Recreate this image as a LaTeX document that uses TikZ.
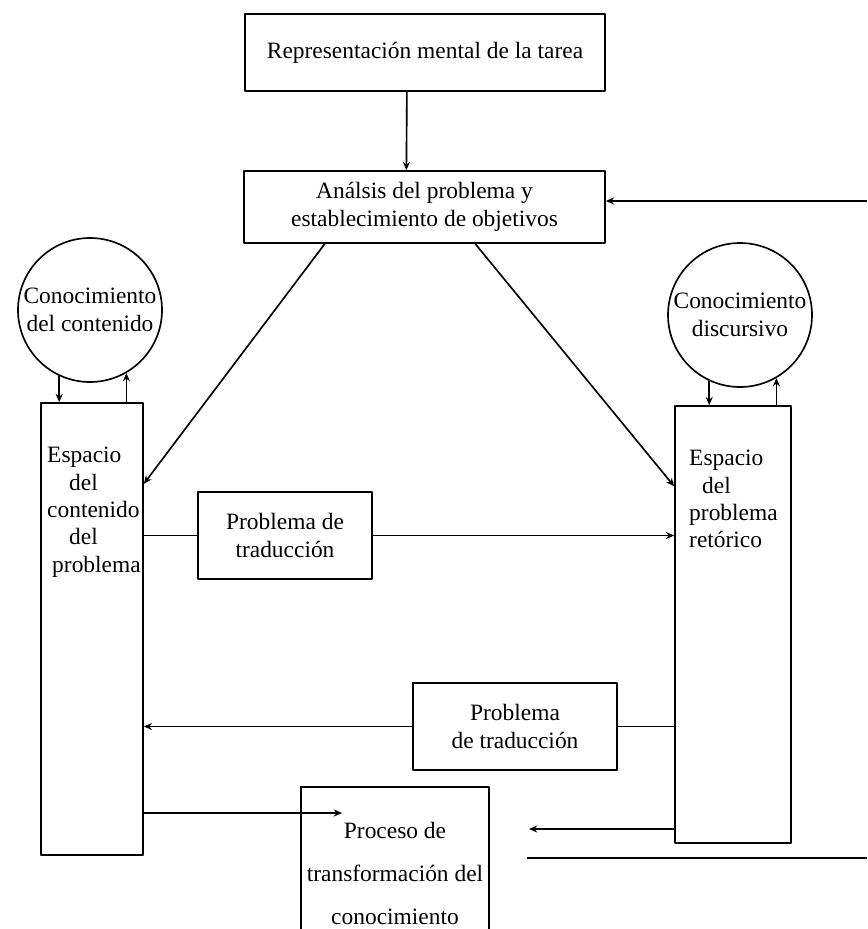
\documentclass[tikz,border=0pt]{standalone}
\usepackage{fontspec}
\setmainfont{Liberation Serif}
\usetikzlibrary{calc,arrows.meta}
\tikzset{
	caja/.style={draw,line width=1.4pt,inner sep=0pt,align=center},
	saber/.style={draw,circle,line width=1.4pt,inner sep=0pt,minimum size=4.32cm,align=center},
	espacio/.style={draw,line width=1.4pt,inner sep=0pt},
	rotulo/.style={anchor=north west,inner sep=0pt,align=left},
	flecha/.style={->,line width=1.4pt}
}
\begin{document}
\begin{tikzpicture}[x=0.03cm,y=-0.03cm,font=\fontsize{20}{23.4}\selectfont,line join=round,>={Stealth[length=7pt,width=6pt]}]
	\useasboundingbox (0,0) rectangle (867,929);
	\clip (0,0) rectangle (867,929);
	% cajas de arriba
	\node[caja,minimum width=10.8cm,minimum height=2.31cm] (T) at (425,52.5) {Representación mental de la tarea};
	\node[caja,minimum width=10.83cm,minimum height=2.16cm] (A) at (424.5,207) {Análsis del problema y\\establecimiento de objetivos};
	% conocimientos
	\node[saber] (CL) at (90,310) {Conocimiento\\del contenido};
	\node[saber] (CR) at (740,315) {Conocimiento\\discursivo};
	% espacios
	\node[espacio,minimum width=3.06cm,minimum height=13.56cm] (L) at (92,629) {};
	\node[espacio,minimum width=3.48cm,minimum height=13.11cm] (R) at (733,624.5) {};
	\node[rotulo] (Lt) at (47,447) {Espacio\\\hspace*{0.66cm}del\\contenido\\\hspace*{0.66cm}del\\\hspace*{0.15cm}problema};
	\node[rotulo] (Rt) at (689,450) {Espacio\\\hspace*{0.39cm}del\\problema\\retórico};
	% traduccion
	\node[caja,minimum width=5.22cm,minimum height=2.61cm] (P1) at (285,535.5) {Problema de\\traducción};
	\node[caja,minimum width=6.12cm,minimum height=2.61cm] (P2) at (515,726.5) {Problema\\de traducción};
	\node[caja,minimum width=5.64cm,minimum height=5.19cm,font=\fontsize{20}{36.6}\selectfont] (K) at (395,873.5) {Proceso de\\transformación del\\conocimiento};
	% flechas
	\draw[flecha] ($(T.south west)!0.45!(T.south east)$) -- ($(A.north west)!0.45!(A.north east)$);
	\coordinate (e1) at (867,201);
	\draw[flecha] (e1) -- (A.east |- e1);
	\draw[flecha] ($(A.south west)!0.225!(A.south east)$) -- ($(L.north east)!0.18!(L.south east)$);
	\draw[flecha] ($(A.south west)!0.64!(A.south east)$) -- ($(R.north west)!0.185!(R.south west)$);
	\draw[flecha] (CL.245) -- (CL.245 |- L.north);
	\draw[flecha] (CL.300 |- L.north) -- (CL.300);
	\draw[flecha] (CR.245) -- (CR.245 |- R.north);
	\draw[flecha] (CR.300 |- R.north) -- (CR.300);
	\draw[line width=1.4pt] (L.east |- P1.west) -- (P1.west);
	\draw[flecha] (P1.east) -- (R.west |- P1.east);
	\draw[line width=1.4pt] (R.west |- P2.east) -- (P2.east);
	\draw[flecha] (P2.west) -- (L.east |- P2.west);
	\coordinate (k1) at (342,813);
	\draw[flecha] (L.east |- k1) -- (k1);
	\coordinate (k2) at (529,829);
	\draw[flecha] (R.west |- k2) -- (k2);
	\coordinate (e2) at (527,858);
	\coordinate (e3) at (867,858);
	\draw[line width=1.4pt] (e2) -- (e3);
\end{tikzpicture}
\end{document}
